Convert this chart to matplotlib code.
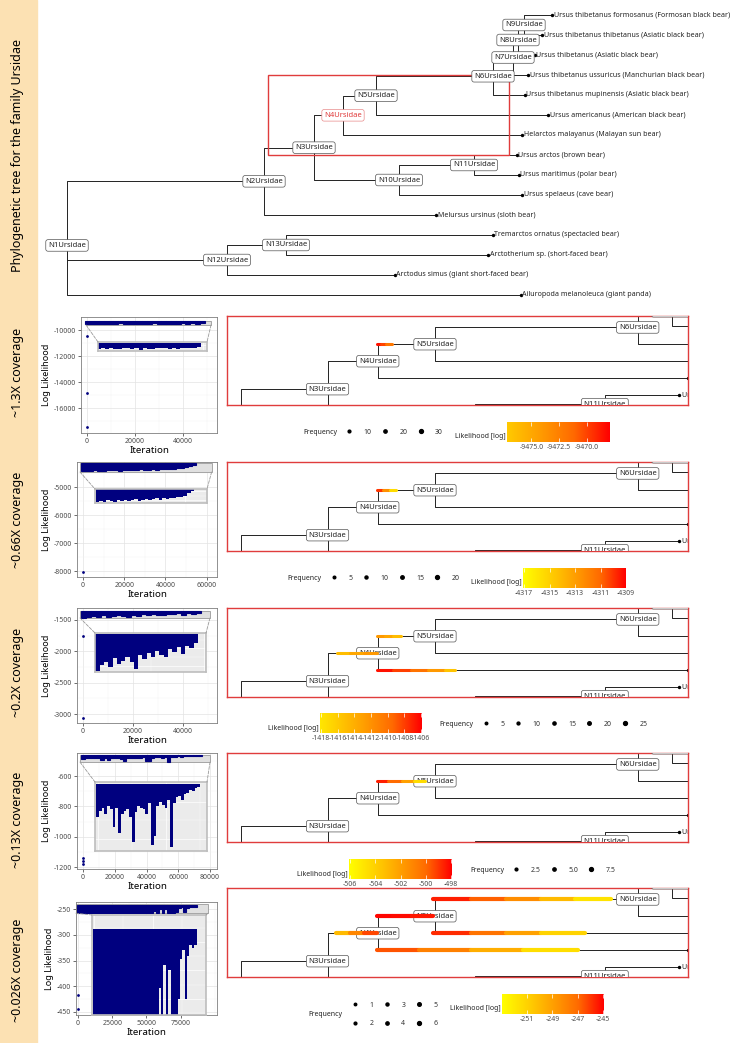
import numpy as np
import matplotlib.pyplot as plt
from matplotlib.colors import LinearSegmentedColormap, Normalize
from matplotlib.patches import Rectangle, ConnectionPatch
from matplotlib.collections import LineCollection
from matplotlib.lines import Line2D
from matplotlib.ticker import AutoMinorLocator

plt.rcParams['font.family'] = ['Noto Sans', 'DejaVu Sans']
plt.rcParams['axes.unicode_minus'] = False

W, H = 733, 1043

# ---------------- tree (tips listed top to bottom) ----------------
tip_labels = [
    'Ursus thibetanus formosanus (Formosan black bear)',
    'Ursus thibetanus thibetanus (Asiatic black bear)',
    'Ursus thibetanus (Asiatic black bear)',
    'Ursus thibetanus ussuricus (Manchurian black bear)',
    'Ursus thibetanus mupinensis (Asiatic black bear)',
    'Ursus americanus (American black bear)',
    'Helarctos malayanus (Malayan sun bear)',
    'Ursus arctos (brown bear)',
    'Ursus maritimus (polar bear)',
    'Ursus spelaeus (cave bear)',
    'Melursus ursinus (sloth bear)',
    'Tremarctos ornatus (spectacled bear)',
    'Arctotherium sp. (short-faced bear)',
    'Arctodus simus (giant short-faced bear)',
    'Ailuropoda melanoleuca (giant panda)',
]
tip_parent = ['N9', 'N9', 'N8', 'N7', 'N6', 'N5', 'N4', 'N11', 'N11', 'N10',
              'N2', 'N13', 'N13', 'N12', 'N1']
tip_depth = [48.5, 47.5, 46.8, 46.1, 45.8, 48.1, 45.5, 45.0, 45.2, 45.5,
             36.9, 42.6, 42.1, 32.8, 45.4]
node_names = ['N1', 'N2', 'N3', 'N4', 'N5', 'N6', 'N7', 'N8', 'N9', 'N10', 'N11', 'N12', 'N13']
node_parent = [None, 'N1', 'N2', 'N3', 'N4', 'N5', 'N6', 'N7', 'N8', 'N3', 'N10', 'N1', 'N12']
node_depth = [0.0, 19.7, 24.7, 27.6, 30.9, 42.6, 44.6, 45.1, 45.7, 33.2, 40.7, 16.0, 21.9]

highlight_x = (20.1, 44.2)
highlight_y = (3.0, 7.0)
view_x = (18.9, 45.5)
view_y = (2.4, 7.55)

AME = tip_labels[5]
HEL = tip_labels[6]

# ---------------- MCMC traces ----------------
coverage_labels = ['~1.3X coverage', '~0.66X coverage', '~0.2X coverage',
                   '~0.13X coverage', '~0.026X coverage']
iter_step = 2000
trace_xticks = [[0, 20000, 40000], [0, 20000, 40000, 60000], [0, 20000, 40000],
                [0, 20000, 40000, 60000, 80000], [0, 25000, 50000, 75000]]
trace_yticks = [[-16000, -14000, -12000, -10000], [-8000, -7000, -6000, -5000],
                [-3000, -2500, -2000, -1500], [-1200, -1000, -800, -600],
                [-450, -400, -350, -300, -250]]
trace_xlim = [(-2500, 54200), (-2900, 65000), (-2400, 53600), (-3780, 84400), (-1460, 101500)]
trace_ylim = [(-17923, -9000), (-8214, -4107), (-3143, -1309), (-1213, -448), (-456, -236)]
burnin_ll = [[-10460, -14850, -17460], [-8040], [-1760, -3070],
             [-1140, -1160, -1180], [-418, -445]]
band_top = [-9310, -4148, -1360, -463, -242.8]
band_low_1 = [-9540, -9510, -9555, -9500, -9525, -9545, -9515, -9495, -9530, -9505,
              -9560, -9500, -9520, -9540, -9490, -9515, -9505, -9545, -9500, -9520,
              -9495, -9510, -9490, -9505, -9480]
band_low_2 = [-4440, -4420, -4435, -4400, -4415, -4430, -4395, -4410, -4390, -4420,
              -4405, -4380, -4410, -4390, -4370, -4395, -4380, -4360, -4385, -4350,
              -4370, -4345, -4360, -4335, -4320, -4300, -4240, -4200]
band_low_3 = [-1465, -1448, -1440, -1455, -1428, -1445, -1436, -1425, -1440, -1460,
              -1420, -1430, -1412, -1424, -1408, -1418, -1426, -1402, -1410, -1396,
              -1416, -1392, -1400, -1385]
band_low_4 = [-485, -481, -479, -483, -478, -480, -492, -479, -496, -483, -481, -480,
              -485, -502, -482, -478, -479, -480, -483, -476, -504, -498, -478, -475,
              -477, -479, -474, -505, -476, -472, -471, -474, -470, -469, -467, -468,
              -466, -465]
band_low_5 = [-258] * 28 + [-253, -258, -249, -258, -250, -258, -258, -258, -255, -248,
                            -246.5, -255, -247.5, -245.5, -246, -245.5]
band_low = [band_low_1, band_low_2, band_low_3, band_low_4, band_low_5]
zoom_x = [(-400, 51700), (-1450, 62400), (-1200, 50800), (-1900, 80000), (-1500, 95000)]
zoom_y = [(-9615, -9270), (-4464, -4143), (-1468, -1356), (-508, -462), (-257.8, -240.3)]

# ---------------- placements on the zoomed tree ----------------
tracks = [
    [('N5', [27.56, 27.8, 28.1, 28.43], [-9468, -9469, -9471, -9473])],
    [('N5', [27.56, 27.9, 28.3, 28.66], [-4309, -4311, -4314, -4317])],
    [('N5', [27.56, 28.0, 28.5, 28.95], [-1412, -1413, -1414, -1416]),
     ('N4', [25.25, 26.0, 26.8, 27.56], [-1416, -1414, -1413, -1412]),
     (HEL, [27.56, 28.5, 29.5, 30.5, 31.5, 32.07], [-1406, -1407, -1409, -1411, -1414, -1417])],
    [('N5', [27.56, 28.2, 29.0, 29.7, 30.34], [-498, -499, -501, -503, -506])],
    [('N6', [30.8, 33.0, 35.0, 37.0, 39.0, 41.03], [-245, -246, -247.5, -249, -251, -252.5]),
     ('N5', [27.56, 28.5, 29.6, 30.8], [-245, -245, -245.2, -245.5]),
     ('N4', [25.2, 26.0, 26.8, 27.56], [-251, -249, -247, -245.5]),
     (AME, [30.8, 33.0, 35.0, 37.0, 39.58], [-245, -246.5, -248, -250, -252]),
     (HEL, [27.56, 30.0, 33.0, 36.0, 39.18], [-246, -247, -248.5, -250.5, -252.5])],
]
track_lw = [2.2, 2.2, 2.2, 2.2, 3.0]

cb_range = [(-9477.2, -9467.9), (-4317.1, -4309.0), (-1418.1, -1405.9),
            (-506.1, -497.9), (-253.0, -244.9)]
color_lo = [-9481, -4317.1, -1420, -506.1, -253.0]
cb_ticks = [[-9475, -9472.5, -9470], [-4317, -4315, -4313, -4311, -4309],
            [-1418, -1416, -1414, -1412, -1410, -1408, -1406],
            [-506, -504, -502, -500, -498], [-251, -249, -247, -245]]
freq_breaks = [[10, 20, 30], [5, 10, 15, 20], [5, 10, 15, 20, 25],
               [2.5, 5.0, 7.5], [1, 2, 3, 4, 5, 6]]

# ---------------- layout (pixels) ----------------
trace_px = [(81, 317, 217, 433), (77, 462, 217, 577), (77, 608, 217, 723),
            (77, 753, 217, 869), (76, 902, 217, 1015)]
inset_px = [(98, 342, 207, 351), (95, 489, 207, 503), (95, 633, 206, 672),
            (95, 782, 207, 851), (92, 915, 206, 1015)]
sub_top = [316, 462, 608, 753, 888]
cb_px = [(507, 422, 610, 442), (523, 568, 626, 588), (320, 713, 422, 733),
         (349, 859, 452, 879), (502, 994, 604, 1014)]
freq_dot_x = [349, 334, 486, 516, 355]
freq_y = [432, 578, 724, 870, 1014.5]
freq_title_right = [337, 321, 473, 504, 342]
freq_ncol = [3, 4, 5, 3, 3]
strip_text_y = [156, 372, 520, 672, 820, 970]

RED = '#E03C3C'
NAVY = '#00007F'
STRIP = '#FCE1B3'
cmap = LinearSegmentedColormap.from_list(
    'yr', ['#FFFF00', '#FFD200', '#FFA000', '#FF6A00', '#FF0000'])


def px_rect(x0, y0, x1, y1):
    return [x0 / W, 1 - y1 / H, (x1 - x0) / W, (y1 - y0) / H]


def fx(x):
    return x / W


def fy(y):
    return 1 - y / H


# tree coordinates
xpos, ypos, parent = {}, {}, {}
for i, lab in enumerate(tip_labels):
    xpos[lab], ypos[lab], parent[lab] = tip_depth[i], float(i), tip_parent[i]
for n, p, d in zip(node_names, node_parent, node_depth):
    xpos[n], parent[n] = d, p
children = {n: [c for c, p in parent.items() if p == n] for n in node_names}


def node_y(n):
    if n not in ypos:
        ypos[n] = float(np.mean([node_y(c) for c in children[n]]))
    return ypos[n]


for n in node_names:
    node_y(n)


def in_view(x, y, view, mx=0.0, my=0.0):
    if view is None:
        return True
    (x0, x1), (y0, y1) = view
    return x0 - mx <= x <= x1 + mx and y0 - my <= y <= y1 + my


def draw_tree(ax, view=None, red_node=None):
    clip = view is not None
    for c, p in parent.items():
        if p is None:
            continue
        ax.plot([xpos[p], xpos[p], xpos[c]], [ypos[p], ypos[c], ypos[c]],
                color='#222222', lw=0.7, zorder=1)
    ax.scatter(tip_depth, range(len(tip_labels)), s=6, color='black',
               linewidths=0, zorder=2)
    for i, lab in enumerate(tip_labels):
        if not in_view(tip_depth[i] + 0.15, i, view):
            continue
        ax.text(tip_depth[i] + 0.15, i, lab, fontsize=5.1, ha='left', va='center',
                color='#222222', clip_on=clip, zorder=2)
    for n in node_names:
        if not in_view(xpos[n], ypos[n], view, 2.5, 0.45):
            continue
        red = n == red_node
        ax.text(xpos[n], ypos[n], n + 'Ursidae', fontsize=5.5, ha='center', va='center',
                color=RED if red else '#222222', clip_on=clip, zorder=4,
                bbox=dict(boxstyle='round,pad=0.3', fc='white',
                          ec='#E88A8A' if red else '#555555', lw=0.5))


fig = plt.figure(figsize=(W / 100, H / 100), dpi=100)
fig.add_artist(Rectangle((0, 0), 37 / W, 1, transform=fig.transFigure,
                         color=STRIP, zorder=0))
fig.text(fx(18), fy(strip_text_y[0]), 'Phylogenetic tree for the family Ursidae',
         rotation=90, ha='center', va='center', fontsize=9, fontweight='bold')

# top tree
top = fig.add_axes(px_rect(40, 0, 733, 306))
draw_tree(top, red_node='N4')
top.add_patch(Rectangle((highlight_x[0], highlight_y[0]), highlight_x[1] - highlight_x[0],
                        highlight_y[1] - highlight_y[0], fill=False, ec=RED, lw=1, zorder=3))
top.set_xlim(-2.7, 66.6)
top.set_ylim(14.55, -0.75)
top.axis('off')

for r in range(5):
    fig.text(fx(18), fy(strip_text_y[r + 1]), coverage_labels[r], rotation=90,
             ha='center', va='center', fontsize=9, fontweight='bold')

    # ---- trace plot ----
    ax = fig.add_axes(px_rect(*trace_px[r]))
    lows = np.array(band_low[r], dtype=float)
    iters = np.arange(len(lows)) * iter_step
    zx, zy = zoom_x[r], zoom_y[r]
    ax.add_patch(Rectangle((zx[0], zy[0]), zx[1] - zx[0], zy[1] - zy[0],
                           fc='#E0E0E0', ec='#9A9A9A', lw=0.6, zorder=1.5))
    ax.bar(iters, band_top[r] - lows, bottom=lows, width=iter_step, color=NAVY,
           ec=NAVY, lw=0.8, zorder=2)
    ax.scatter(np.zeros(len(burnin_ll[r])), burnin_ll[r], s=4, color=NAVY,
               linewidths=0, zorder=3)
    ax.set_xlim(*trace_xlim[r])
    ax.set_ylim(*trace_ylim[r])
    ax.set_xticks(trace_xticks[r])
    ax.set_xticklabels([str(v) for v in trace_xticks[r]])
    ax.set_yticks(trace_yticks[r])
    ax.set_yticklabels([str(v) for v in trace_yticks[r]])
    ax.xaxis.set_minor_locator(AutoMinorLocator(2))
    ax.yaxis.set_minor_locator(AutoMinorLocator(2))
    ax.grid(which='major', color='#E3E3E3', lw=0.5)
    ax.grid(which='minor', color='#F1F1F1', lw=0.3)
    ax.set_axisbelow(True)
    ax.tick_params(which='minor', length=0)
    ax.tick_params(which='major', length=2, width=0.5, color='#333333', labelsize=5,
                   labelcolor='#4D4D4D', pad=1.5)
    for s in ax.spines.values():
        s.set_color('#7F7F7F')
        s.set_linewidth(0.6)
    ax.set_xlabel('Iteration', fontsize=7, labelpad=1)
    ax.set_ylabel('Log Likelihood', fontsize=6.5, labelpad=2)

    ins = fig.add_axes(px_rect(*inset_px[r]))
    ins.bar(iters, band_top[r] - lows, bottom=lows, width=iter_step, color=NAVY,
            lw=0, zorder=2)
    ins.set_xlim(*zx)
    ins.set_ylim(*zy)
    ins.set_facecolor('#EBEBEB')
    ins.xaxis.set_minor_locator(AutoMinorLocator(2))
    ins.yaxis.set_minor_locator(AutoMinorLocator(2))
    ins.grid(which='major', color='white', lw=0.5)
    ins.grid(which='minor', color='white', lw=0.25)
    ins.set_axisbelow(True)
    ins.tick_params(which='both', length=0, labelleft=False, labelbottom=False)
    for s in ins.spines.values():
        s.set_color('#BDBDBD')
        s.set_linewidth(1.2)
    for xa, xb in [((zx[0], zy[0]), (0, 1)), ((zx[1], zy[0]), (1, 1))]:
        con = ConnectionPatch(xyA=xa, coordsA=ax.transData, xyB=xb,
                              coordsB=ins.transAxes, ls='--', color='#9A9A9A', lw=0.6)
        fig.add_artist(con)

    # ---- zoomed tree with placements ----
    sub = fig.add_axes(px_rect(227, sub_top[r], 688, sub_top[r] + 89))
    draw_tree(sub, view=(view_x, view_y))
    sub.set_xlim(*view_x)
    sub.set_ylim(view_y[1], view_y[0])
    sub.set_xticks([])
    sub.set_yticks([])
    for s in sub.spines.values():
        s.set_color(RED)
        s.set_linewidth(1)
    norm = Normalize(color_lo[r], cb_range[r][1])
    for edge, xs, liks in tracks[r]:
        pts = np.column_stack([xs, np.full(len(xs), ypos[edge])])
        segs = np.stack([pts[:-1], pts[1:]], axis=1)
        liks = np.array(liks, dtype=float)
        lc = LineCollection(segs, cmap=cmap, norm=norm, linewidths=track_lw[r],
                            capstyle='round', zorder=6)
        lc.set_array((liks[:-1] + liks[1:]) / 2)
        sub.add_collection(lc)

    # ---- colour bar ----
    cax = fig.add_axes(px_rect(*cb_px[r]))
    lo, hi = cb_range[r]
    cax.imshow(np.linspace(lo, hi, 256)[None, :], cmap=cmap, norm=norm,
               extent=(lo, hi, 0, 1), aspect='auto')
    cax.set_xlim(lo, hi)
    cax.set_xticks(cb_ticks[r])
    fmt = '{:.1f}' if r == 0 else '{:.0f}'
    cax.set_xticklabels([fmt.format(v) for v in cb_ticks[r]])
    cax.set_yticks([])
    for s in cax.spines.values():
        s.set_visible(False)
    cax.tick_params(axis='x', direction='in', color='white', length=3, width=0.5,
                    top=True, labelsize=5, labelcolor='#4D4D4D', pad=1.5)
    fig.text(fx(cb_px[r][0] - 1), fy(cb_px[r][3] - 5), 'Likelihood [log]',
             ha='right', va='center', fontsize=5, color='#222222')

    # ---- frequency legend ----
    fs = 5
    hl = 0.6
    br = freq_breaks[r]
    handles = [Line2D([], [], ls='none', marker='o', color='black',
                      ms=1.6 + 1.2 * f / max(br)) for f in br]
    labels = [('{:.1f}'.format(f) if r == 3 else str(f)) for f in br]
    anchor_x = freq_dot_x[r] - hl * fs * 100 / 72 / 2
    fig.legend(handles, labels, loc='center left',
               bbox_to_anchor=(fx(anchor_x), fy(freq_y[r])), ncol=freq_ncol[r],
               frameon=False, fontsize=fs, handlelength=hl, handletextpad=1.8,
               columnspacing=1.6, borderpad=0, borderaxespad=0, labelspacing=1.7,
               handleheight=0.7, labelcolor='#333333')
    fig.text(fx(freq_title_right[r]), fy(freq_y[r]), 'Frequency', ha='right',
             va='center', fontsize=5, color='#222222')

fig.savefig('out.png', dpi=100)
